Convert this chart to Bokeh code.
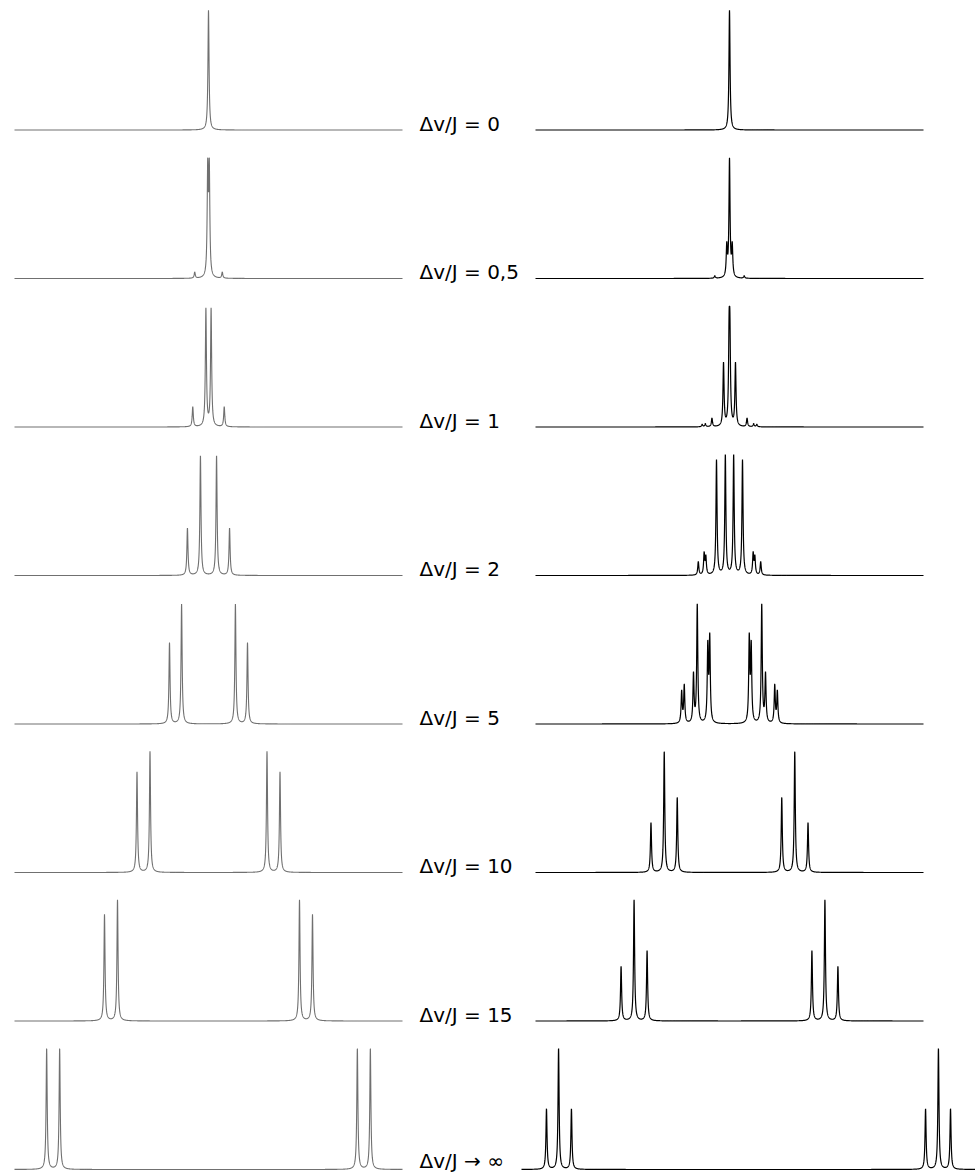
import numpy as np
from bokeh.plotting import figure
from bokeh.models import Range1d
from bokeh.embed import file_html
from bokeh.resources import INLINE
from bokeh.core.properties import value

# ---------------- data (line positions in units of J, intensities relative to tallest line) ----------------
labels = ["Δv/J = 0", "Δv/J = 0,5", "Δv/J = 1", "Δv/J = 2",
          "Δv/J = 5", "Δv/J = 10", "Δv/J = 15", "Δv/J → ∞"]

# left column: AB spin system
ab_pos_1 = [0.0]
ab_int_1 = [0.99]
ab_pos_2 = [-1.06, -0.06, 0.06, 1.06]
ab_int_2 = [0.05, 0.87, 0.87, 0.05]
ab_pos_3 = [-1.21, -0.20, 0.20, 1.21]
ab_int_3 = [0.165, 0.97, 0.97, 0.165]
ab_pos_4 = [-1.62, -0.62, 0.62, 1.62]
ab_int_4 = [0.39, 0.99, 0.99, 0.39]
ab_pos_5 = [-3.0, -2.07, 2.07, 3.0]
ab_int_5 = [0.67, 0.99, 0.99, 0.67]
ab_pos_6 = [-5.5, -4.5, 4.5, 5.5]
ab_int_6 = [0.83, 1.0, 1.0, 0.83]
ab_pos_7 = [-8.0, -7.0, 7.0, 8.0]
ab_int_7 = [0.88, 1.0, 1.0, 0.88]
ab_pos_8 = [-12.45, -11.45, 11.45, 12.45]
ab_int_8 = [1.0, 1.0, 1.0, 1.0]

# right column: A2B2 spin system
aabb_pos_1 = [0.0]
aabb_int_1 = [0.99]
aabb_pos_2 = [-1.13, -0.21, 0.0, 0.21, 1.13]
aabb_int_2 = [0.02, 0.25, 0.97, 0.25, 0.02]
aabb_pos_3 = [-2.1, -1.86, -1.35, -0.46, -0.03, 0.03, 0.46, 1.35, 1.86, 2.1]
aabb_int_3 = [0.02, 0.025, 0.07, 0.52, 0.67, 0.67, 0.52, 0.07, 0.025, 0.02]
aabb_pos_4 = [-2.4, -1.95, -1.82, -1.0, -0.32, 0.32, 1.0, 1.82, 1.95, 2.4]
aabb_int_4 = [0.11, 0.174, 0.143, 0.95, 0.99, 0.99, 0.95, 0.174, 0.143, 0.11]
aabb_pos_5 = [-3.68, -3.48, -2.77, -2.48, -1.67, -1.52, 1.52, 1.67, 2.48, 2.77, 3.48, 3.68]
aabb_int_5 = [0.26, 0.31, 0.40, 0.98, 0.62, 0.69, 0.69, 0.62, 0.98, 0.40, 0.31, 0.26]
aabb_pos_6 = [-6.04, -5.02, -4.02, 4.02, 5.02, 6.04]
aabb_int_6 = [0.41, 1.0, 0.62, 0.62, 1.0, 0.41]
aabb_pos_7 = [-8.34, -7.34, -6.34, 6.34, 7.34, 8.34]
aabb_int_7 = [0.45, 1.0, 0.58, 0.58, 1.0, 0.45]
aabb_pos_8 = [-15.54, -14.61, -13.62, 13.62, 14.61, 15.54]
aabb_int_8 = [0.5, 1.0, 0.5, 0.5, 1.0, 0.5]

ab_pos = [ab_pos_1, ab_pos_2, ab_pos_3, ab_pos_4, ab_pos_5, ab_pos_6, ab_pos_7, ab_pos_8]
ab_int = [ab_int_1, ab_int_2, ab_int_3, ab_int_4, ab_int_5, ab_int_6, ab_int_7, ab_int_8]
aabb_pos = [aabb_pos_1, aabb_pos_2, aabb_pos_3, aabb_pos_4, aabb_pos_5, aabb_pos_6, aabb_pos_7, aabb_pos_8]
aabb_int = [aabb_int_1, aabb_int_2, aabb_int_3, aabb_int_4, aabb_int_5, aabb_int_6, aabb_int_7, aabb_int_8]

# ---------------- layout / style ----------------
W, H = 975, 1173
BASE0, ROW_STEP = 129.5, 148.5
J_PX, H_PX, GAMMA = 13.0, 121.0, 0.65
LEFT_SPAN = (14.0, 402.0)
RIGHT_SPAN = (535.0, 923.0)
RIGHT_SPAN_LAST = (521.0, 975.0)
LABEL_X = 419.0


def spectrum(span, pos, inten, baseline):
    x0, x1 = span
    c = (x0 + x1) / 2.0
    x = np.arange(x0, x1 + 0.001, 0.1)
    centres = c + np.asarray(pos)[:, None] * J_PX
    amps = np.asarray(inten)[:, None] * H_PX
    y = baseline - (amps / (1.0 + ((x[None, :] - centres) / GAMMA) ** 2)).sum(axis=0)
    return x, y


p = figure(width=W, height=H, x_range=Range1d(0, W), y_range=Range1d(H, 0),
           output_backend="svg", toolbar_location=None, min_border=0,
           x_axis_type=None, y_axis_type=None)
p.grid.visible = False
p.outline_line_color = None
p.background_fill_color = "white"
p.border_fill_color = "white"

baselines = []
for i in range(8):
    b = BASE0 + i * ROW_STEP
    baselines.append(b)
    xl, yl = spectrum(LEFT_SPAN, ab_pos[i], ab_int[i], b)
    p.line(xl, yl, line_color="#707070", line_width=1.1)
    rspan = RIGHT_SPAN_LAST if i == 7 else RIGHT_SPAN
    xr, yr = spectrum(rspan, aabb_pos[i], aabb_int[i], b)
    p.line(xr, yr, line_color="black", line_width=1.2)

label_y = [b - 6.5 for b in baselines]
label_y[-1] = min(label_y[-1], H - 13.0)   # keep the last label inside the page
p.text(x=[LABEL_X] * 8, y=label_y, text=labels,
       text_font=value("DejaVu Sans"), text_font_size="20px",
       text_baseline="middle", text_align="left", text_color="black")

open("out.html", "w").write(file_html(p, INLINE))
